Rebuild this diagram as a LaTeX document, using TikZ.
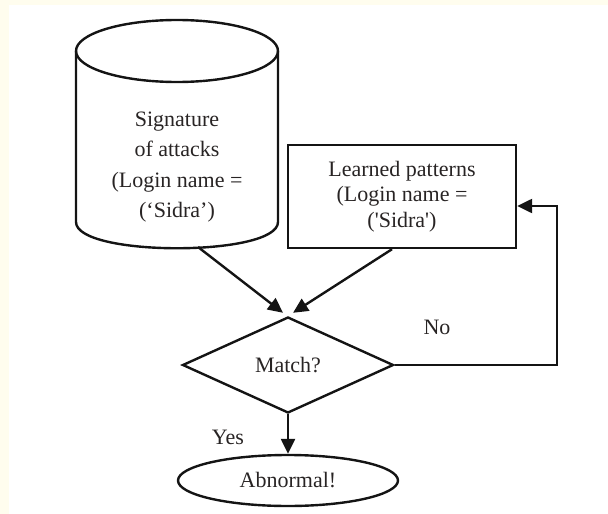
\documentclass[tikz,border=0pt]{standalone}
\usepackage{fontspec}
\setmainfont{Liberation Serif}
\usetikzlibrary{shapes.geometric,arrows.meta,calc}
\definecolor{txt}{RGB}{40,36,36}
\definecolor{ln}{RGB}{20,20,20}
\definecolor{paper}{RGB}{255,253,238}
\begin{document}
\begin{tikzpicture}[x=1pt,y=-1pt,
  lw/.style={line width=2.4pt, draw=ln},
  arr/.style={lw, -{Triangle[length=15pt,width=14pt]}},
  lbl/.style={text=txt, font=\fontsize{22}{25.5}\selectfont, inner sep=0pt},
  rectbox/.style={lw, rectangle, minimum width=228pt, minimum height=103pt, inner sep=0pt},
  decbox/.style={lw, diamond, minimum width=211pt, minimum height=96pt, inner sep=0pt},
  endbox/.style={lw, ellipse, minimum width=220pt, minimum height=51pt, inner sep=0pt}]
\useasboundingbox (0,0) rectangle (608,514);
\fill[paper] (0,0) rectangle (608,5);
\fill[paper] (0,0) rectangle (9,514);
% cylinder
\draw[lw] (177,51) ellipse [x radius=101pt, y radius=31pt];
\draw[lw] (76,51) -- (76,222) .. controls (76,257) and (278,257) .. (278,222) -- (278,51);
\coordinate (cylbot) at (198,247);
\node[lbl, align=center, font=\fontsize{22}{30.5}\selectfont] (sig) at (177,167)
  {Signature\\of attacks\\(Login name =\\(`Sidra')};
% learned patterns
\node[rectbox, lbl, lw, align=center] (learn) at (402,196.5)
  {Learned patterns\\(Login name =\\(\textquotesingle Sidra\textquotesingle)};
% decision
\node[decbox, lbl, lw] (m) at (288,365) {Match?};
% end
\node[endbox, lbl, lw] (ab) at (288,480.5) {Abnormal!};
% connectors
\draw[arr] (cylbot) -- ([xshift=-5pt,yshift=3pt]m.north);
\draw[arr] ([xshift=-10pt]learn.south) -- ([xshift=5pt,yshift=3pt]m.north);
\draw[arr] (m.east) -- ++(162,0) |- ([yshift=-9.5pt]learn.east);
\draw[arr] (m.south) -- (ab.north);
\node[lbl] (no) at (437,327) {No};
\node[lbl] (yes) at (228,437) {Yes};
\end{tikzpicture}
\end{document}
